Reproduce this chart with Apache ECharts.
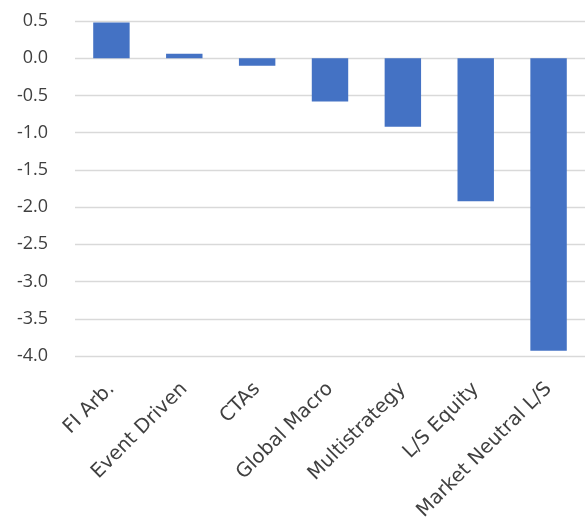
<!DOCTYPE html>
<html>
<head>
<meta charset="utf-8">
<script src="https://cdn.jsdelivr.net/npm/echarts@6/dist/echarts.min.js"></script>
<style>
  html, body { margin: 0; padding: 0; background: #fff; }
  #chart { width: 585px; height: 527px; }
</style>
</head>
<body>
<div id="chart"></div>
<script>
var categories = ['FI Arb.', 'Event Driven', 'CTAs', 'Global Macro', 'Multistrategy', 'L/S Equity', 'Market Neutral L/S'];
var values = [0.48, 0.06, -0.10, -0.58, -0.92, -1.92, -3.93];

var chart = echarts.init(document.getElementById('chart'));
chart.setOption({
    animation: false,
    grid: { left: 75, right: -13, top: 21, bottom: 171 },
    xAxis: {
        type: 'category',
        data: categories,
        axisLine: { show: false, onZero: false },
        axisTick: { show: false },
        axisLabel: {
            rotate: 45,
            interval: 0,
            margin: 30,
            color: '#404040',
            fontSize: 19.5,
            fontFamily: 'DejaVu Sans'
        }
    },
    yAxis: {
        type: 'value',
        min: -4,
        max: 0.5,
        interval: 0.5,
        axisLine: { show: false },
        axisTick: { show: false },
        splitLine: { lineStyle: { color: '#d9d9d9', width: 1.3 } },
        axisLabel: {
            margin: 27,
            color: '#404040',
            fontSize: 18,
            fontFamily: 'Open Sans',
            formatter: function (v) { return v.toFixed(1); }
        }
    },
    series: [{
        type: 'bar',
        data: values,
        barWidth: '50%',
        itemStyle: { color: '#4472C4' }
    }]
});
</script>
</body>
</html>
